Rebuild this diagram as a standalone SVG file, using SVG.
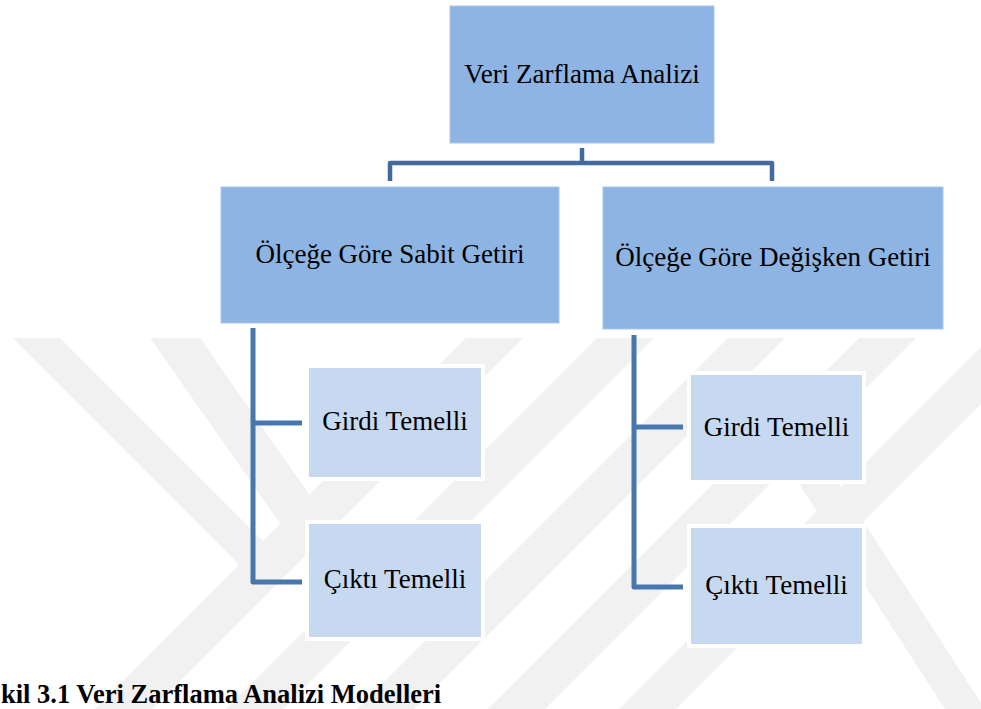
<svg xmlns="http://www.w3.org/2000/svg" width="981" height="709" viewBox="0 0 981 709">
<style>
.wm{fill:#f1f1f1}
.dark{fill:#8eb4e3;stroke:#a9c5ea;stroke-width:1}
.light{fill:#c6d9f1;stroke:#ffffff;stroke-width:4}
.t{font-family:"Liberation Serif","Times New Roman",serif;font-size:27px;fill:#000;text-anchor:middle}
.cap{font-family:"Liberation Serif","Times New Roman",serif;font-size:26.5px;font-weight:bold;fill:#000}
.c1{fill:none;stroke:#44699c;stroke-width:4.5;stroke-linejoin:round}
.c2{fill:none;stroke:#4a76ae;stroke-width:5;stroke-linejoin:round}
</style>
<rect width="981" height="709" fill="#ffffff"/>
<g id="watermark">
<polygon class="wm" points="13,338 60,338 276,554 252,578"/>
<polygon class="wm" points="150,338 200,338 320,510 291,539"/>
<polygon class="wm" points="466,338 523,338 152,709 95,709"/>
<polygon class="wm" points="597,338 654,338 283,709 226,709"/>
<polygon class="wm" points="728,338 785,338 414,709 357,709"/>
<polygon class="wm" points="859,338 916,338 545,709 488,709"/>
<polygon class="wm" points="990,338 1047,338 676,709 619,709"/>
<polygon class="wm" points="790,470 830,470 985,709 945,709"/>
</g>
<g id="connectors">
<path class="c1" d="M582,148 V163 M390,181 V163 H772 V181"/>
<path class="c2" d="M253,328 V582 H302 M253,423 H302"/>
<path class="c2" d="M634,335 V587 H683 M634,427 H683"/>
</g>
<g id="n-root">
<rect class="dark" x="450" y="6" width="264" height="137"/>
<text class="t" x="582" y="83">Veri Zarflama Analizi</text>
</g>
<g id="n-sabit">
<rect class="dark" x="221" y="187" width="338" height="136"/>
<text class="t" x="390" y="263">Ölçeğe Göre Sabit Getiri</text>
</g>
<g id="n-degisken">
<rect class="dark" x="603" y="187" width="340" height="142"/>
<text class="t" x="773" y="266">Ölçeğe Göre Değişken Getiri</text>
</g>
<g id="n-sabit-girdi">
<rect class="light" x="307" y="366" width="176" height="113"/>
<text class="t" x="395" y="430">Girdi Temelli</text>
</g>
<g id="n-sabit-cikti">
<rect class="light" x="307" y="522" width="176" height="117"/>
<text class="t" x="395" y="588">Çıktı Temelli</text>
</g>
<g id="n-degisken-girdi">
<rect class="light" x="689" y="373" width="175" height="109"/>
<text class="t" x="776.5" y="436">Girdi Temelli</text>
</g>
<g id="n-degisken-cikti">
<rect class="light" x="689" y="526" width="175" height="120"/>
<text class="t" x="776.5" y="594">Çıktı Temelli</text>
</g>
<text class="cap" x="1" y="703">kil 3.1 Veri Zarflama Analizi Modelleri</text>
</svg>
